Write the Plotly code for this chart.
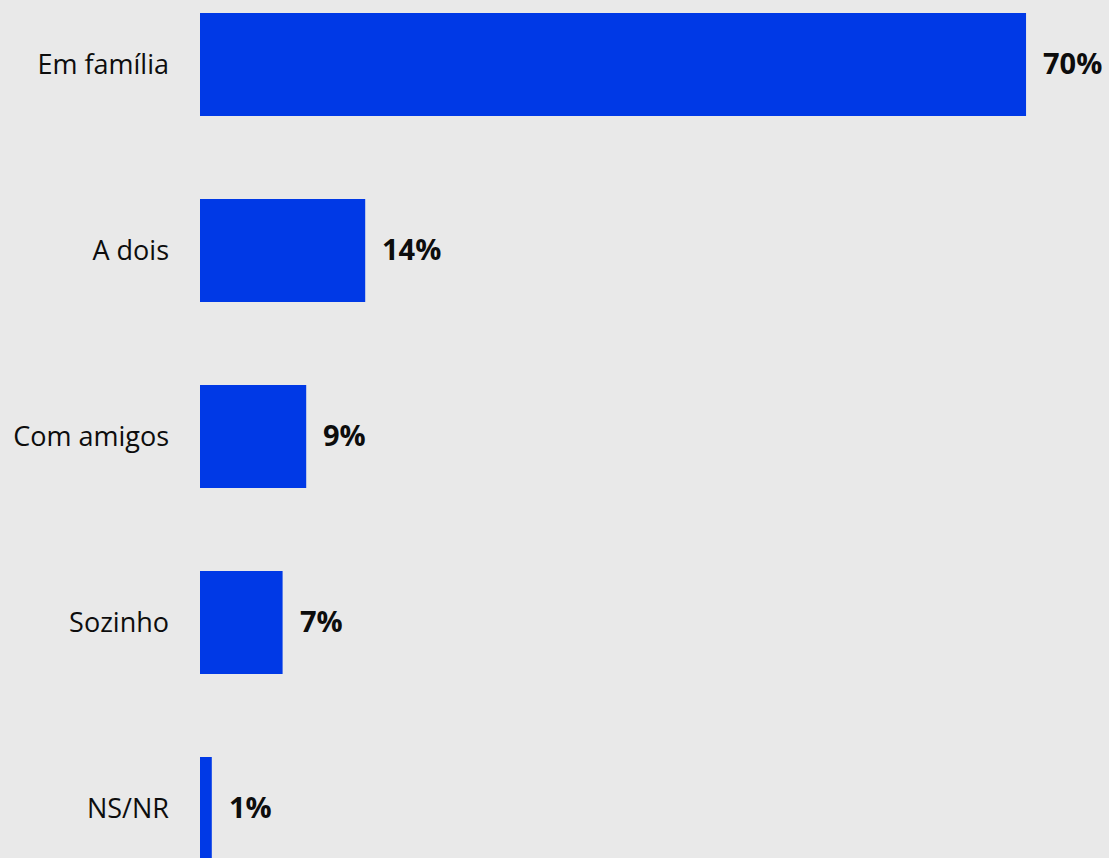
import plotly.graph_objects as go

categories = ["Em família", "A dois", "Com amigos", "Sozinho", "NS/NR"]
values = [70, 14, 9, 7, 1]
value_labels = ["70%", "14%", "9%", "7%", "1%"]

fig = go.Figure(go.Bar(
    x=values,
    y=categories,
    orientation="h",
    marker=dict(color="#0039E6", line=dict(width=0)),
    width=0.554,
    hoverinfo="x+y",
))

for v, c, t in zip(values, categories, value_labels):
    fig.add_annotation(
        x=v, y=c, text=t, showarrow=False,
        xanchor="left", yanchor="middle", xshift=15, yshift=2,
        font=dict(family="Open Sans", size=29, color="#0d0d0d", weight="bold"),
    )

fig.update_layout(
    width=1109, height=858,
    margin=dict(l=200, r=0, t=0, b=0, pad=0),
    paper_bgcolor="#e9e9e9",
    plot_bgcolor="rgba(0,0,0,0)",
    showlegend=False,
    xaxis=dict(range=[0, 77.03], visible=False, showgrid=False, zeroline=False),
    yaxis=dict(
        categoryorder="array", categoryarray=categories,
        range=[4.266, -0.347],
        showgrid=False, zeroline=False, showline=False,
        ticks="", ticklabelstandoff=30,
        tickfont=dict(family="Open Sans", size=27, color="#0d0d0d"),
    ),
)

fig.write_html(
    "out.html",
    config={"displayModeBar": False},
    post_script="document.body.style.margin='0';document.body.style.background='#e9e9e9';document.body.style.overflow='hidden';",
)
